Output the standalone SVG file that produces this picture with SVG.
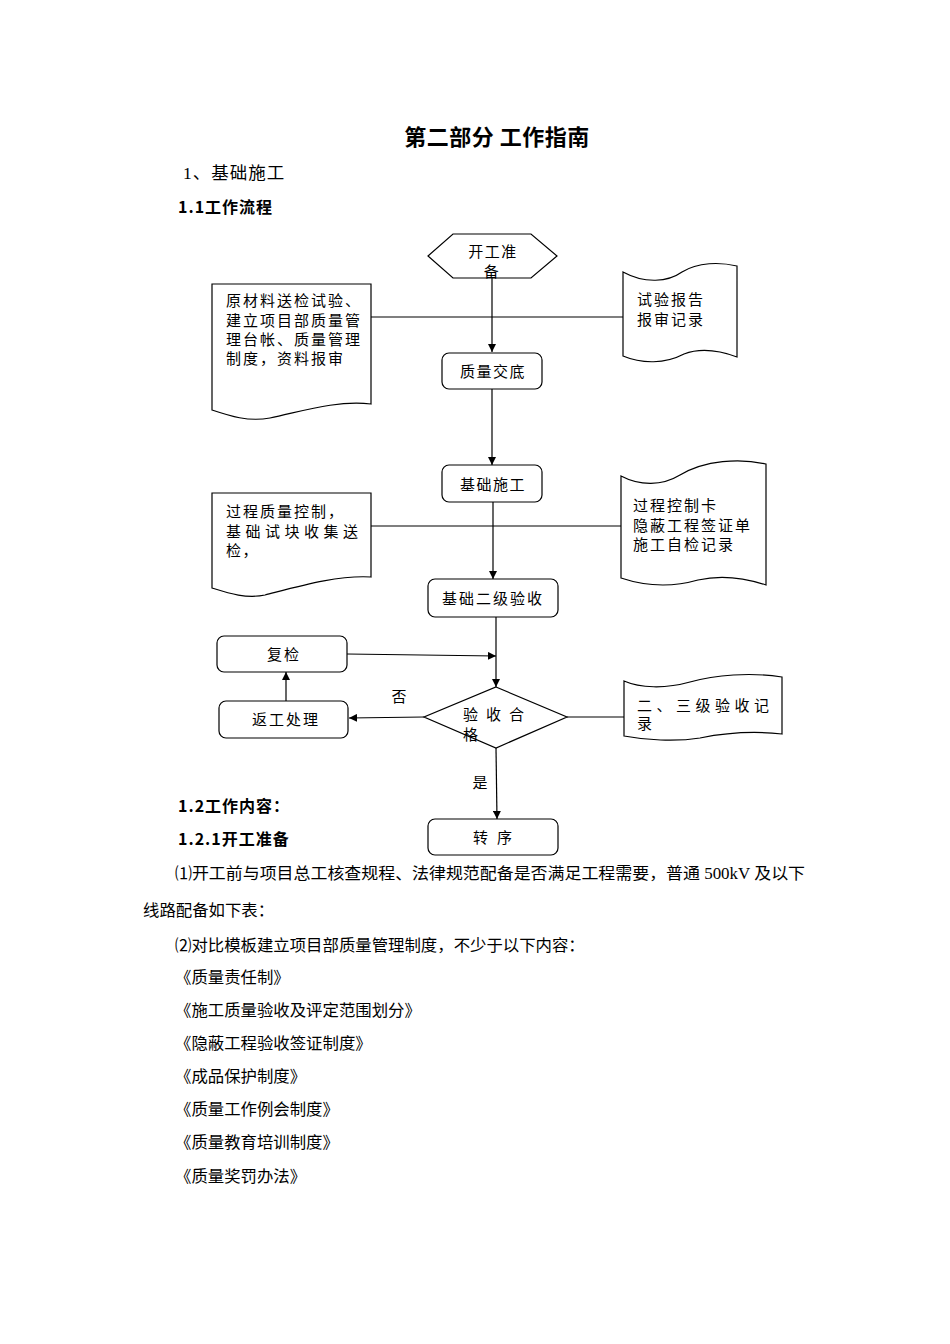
<svg xmlns="http://www.w3.org/2000/svg" width="950" height="1344" viewBox="0 0 950 1344">
<defs>
<style>
text{font-family:"Liberation Serif","Noto Sans CJK SC",serif;fill:#000}
.t{font-size:15px;letter-spacing:1.5px}
.c{text-anchor:middle}
.h{font-family:"Noto Sans CJK SC",sans-serif;font-weight:bold}
.b{font-size:16.4px}
.shape{fill:#fff;stroke:#000;stroke-width:1.2}
.ln{fill:none;stroke:#000;stroke-width:1.2}
.ar{fill:none;stroke:#000;stroke-width:1.2;marker-end:url(#arr)}
</style>
<marker id="arr" viewBox="0 0 10 10" refX="10" refY="5" markerWidth="8" markerHeight="8" markerUnits="userSpaceOnUse" orient="auto">
<path d="M0,0 L10,5 L0,10 Z" fill="#000"/>
</marker>
</defs>
<rect width="950" height="1344" fill="#fff"/>

<g id="headings">
<text class="h" x="497" y="145" font-size="22" text-anchor="middle" style="letter-spacing:0.5px">第二部分  工作指南</text>
<text x="183" y="179" font-size="17.5" style="letter-spacing:1px">1、基础施工</text>
<text class="h" x="178" y="213" font-size="16" style="letter-spacing:1px">1.1工作流程</text>
</g>

<g id="connectors">
<line class="ln" x1="371" y1="317" x2="623" y2="317"/>
<line class="ln" x1="371" y1="526" x2="621" y2="526"/>
<line class="ar" x1="492" y1="278" x2="492" y2="352"/>
<line class="ar" x1="492" y1="389" x2="492" y2="465"/>
<line class="ar" x1="493" y1="502" x2="493" y2="579"/>
<line class="ar" x1="496" y1="617" x2="496" y2="687"/>
<line class="ar" x1="347" y1="654" x2="496" y2="656"/>
<line class="ar" x1="286" y1="701" x2="286" y2="672"/>
<line class="ar" x1="424" y1="717" x2="349" y2="718"/>
<line class="ln" x1="567" y1="717" x2="624" y2="717"/>
<line class="ar" x1="496" y1="748" x2="497" y2="819"/>
<text x="399" y="702" font-size="15" class="c">否</text>
<text x="480" y="788" font-size="15" class="c">是</text>
</g>

<g id="n-start">
<polygon class="shape" points="428,256 453,234 531,234 557,256 531,278 453,278"/>
<text class="t c" x="493" y="257">开工准</text>
<text class="t c" x="492" y="277">备</text>
</g>

<g id="n-doc1">
<path class="shape" d="M212,284 L371,284 L371,404 C335,400 300,412 270,418 C248,422 230,416 212,410 Z"/>
<text class="t" x="226" y="306" style="letter-spacing:2px">原材料送检试验、</text>
<text class="t" x="226" y="326" style="letter-spacing:2px">建立项目部质量管</text>
<text class="t" x="226" y="345" style="letter-spacing:2px">理台帐、质量管理</text>
<text class="t" x="226" y="364" style="letter-spacing:2px">制度，资料报审</text>
</g>

<g id="n-tape1">
<path class="shape" d="M623,272 C645,284 668,282 682,272 C698,262 720,262 737,266 L737,357 C718,350 700,348 684,354 C665,364 642,364 623,356 Z"/>
<text class="t" x="637" y="305" style="letter-spacing:2px">试验报告</text>
<text class="t" x="637" y="325" style="letter-spacing:2px">报审记录</text>
</g>

<g id="n-jd">
<rect class="shape" x="442" y="353" width="100" height="36" rx="7"/>
<text class="t c" x="493" y="377">质量交底</text>
</g>

<g id="n-jc">
<rect class="shape" x="442" y="465" width="100" height="37" rx="7"/>
<text class="t c" x="493" y="490">基础施工</text>
</g>

<g id="n-doc2">
<path class="shape" d="M212,493 L371,493 L371,577 C338,575 300,586 265,595 C246,599 228,593 212,588 Z"/>
<text class="t" x="226" y="517" style="letter-spacing:2px">过程质量控制，</text>
<text class="t" x="226" y="537" style="letter-spacing:4.5px">基础试块收集送</text>
<text class="t" x="226" y="556">检，</text>
</g>

<g id="n-tape2">
<path class="shape" d="M621,476 C640,486 662,486 680,475 C705,460 740,458 766,464 L766,585 C745,578 720,575 698,580 C670,588 645,586 621,578 Z"/>
<text class="t" x="633" y="511" style="letter-spacing:2px">过程控制卡</text>
<text class="t" x="633" y="531" style="letter-spacing:2px">隐蔽工程签证单</text>
<text class="t" x="633" y="550" style="letter-spacing:2px">施工自检记录</text>
</g>

<g id="n-ej">
<rect class="shape" x="428" y="579" width="130" height="38" rx="7"/>
<text class="t c" x="493" y="604" style="letter-spacing:2px">基础二级验收</text>
</g>

<g id="n-fj">
<rect class="shape" x="217" y="636" width="130" height="36" rx="7"/>
<text class="t c" x="284" y="660" style="letter-spacing:2px">复检</text>
</g>

<g id="n-fg">
<rect class="shape" x="219" y="701" width="129" height="37" rx="7"/>
<text class="t c" x="286" y="725" style="letter-spacing:2px">返工处理</text>
</g>

<g id="n-ys">
<polygon class="shape" points="496,687 567,717 496,748 424,717"/>
<text class="t" x="463" y="720" style="letter-spacing:8px">验收合</text>
<text class="t" x="463" y="740">格</text>
</g>

<g id="n-tape3">
<path class="shape" d="M624,681 C640,688 665,689 690,682 C715,675 750,672 782,677 L782,734 C755,731 725,733 700,738 C675,742 645,740 624,736 Z"/>
<text class="t" x="637" y="711" style="letter-spacing:4.5px">二、三级验收记</text>
<text class="t" x="637" y="729">录</text>
</g>

<g id="n-zx">
<rect class="shape" x="428" y="819" width="130" height="36" rx="7"/>
<text class="t c" x="497" y="843" style="letter-spacing:9px">转序</text>
</g>

<g id="body">
<text class="h" x="178" y="812" font-size="16" style="letter-spacing:1px">1.2工作内容：</text>
<text class="h" x="178" y="845" font-size="16" style="letter-spacing:1px">1.2.1开工准备</text>
<text class="b" x="175" y="879" textLength="630" lengthAdjust="spacingAndGlyphs">⑴开工前与项目总工核查规程、法律规范配备是否满足工程需要，普通 500kV 及以下</text>
<text class="b" x="143" y="916">线路配备如下表：</text>
<text class="b" x="175" y="951">⑵对比模板建立项目部质量管理制度，不少于以下内容：</text>
<text class="b" x="175" y="983">《质量责任制》</text>
<text class="b" x="175" y="1016">《施工质量验收及评定范围划分》</text>
<text class="b" x="175" y="1049">《隐蔽工程验收签证制度》</text>
<text class="b" x="175" y="1082">《成品保护制度》</text>
<text class="b" x="175" y="1115">《质量工作例会制度》</text>
<text class="b" x="175" y="1148">《质量教育培训制度》</text>
<text class="b" x="175" y="1182">《质量奖罚办法》</text>
</g>
</svg>
